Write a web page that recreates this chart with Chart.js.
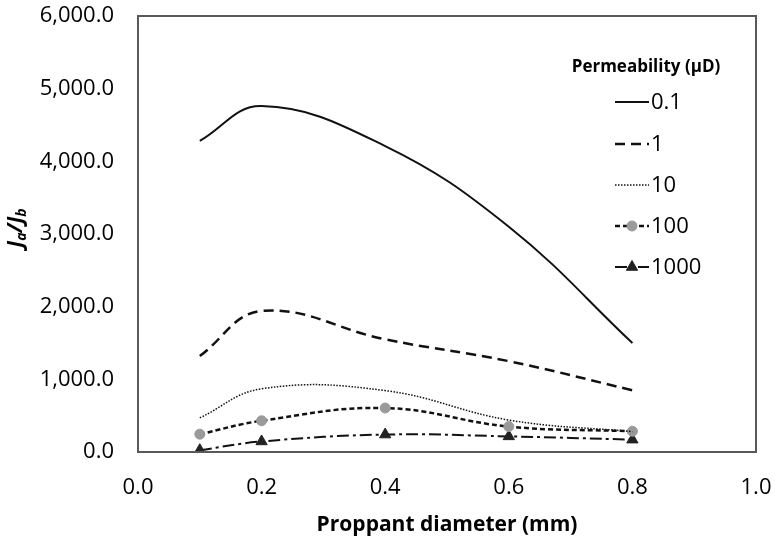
<!DOCTYPE html>
<html><head><meta charset="utf-8">
<script src="https://cdn.jsdelivr.net/npm/chart.js@4.4.1/dist/chart.umd.min.js"></script>
<style>html,body{margin:0;padding:0;background:#fff}#wrap{width:775px;height:543px}</style>
</head><body><div id="wrap"><canvas id="c" width="775" height="543"></canvas></div>
<script>
const diameters = [0.1, 0.2, 0.4, 0.6, 0.8];
const seriesNames = ['0.1', '1', '10', '100', '1000'];
const perm01 = [4280, 4760, 4210, 3100, 1500];
const perm1 = [1320, 1940, 1550, 1250, 850];
const perm10 = [470, 870, 845, 440, 280];
const perm100 = [245, 430, 605, 350, 285];
const perm1000 = [25, 145, 240, 215, 170];
const xTicks = [0, 0.2, 0.4, 0.6, 0.8, 1.0];
const yTicks = [0, 1000, 2000, 3000, 4000, 5000, 6000];
const legendTitle = 'Permeability (\u03bcD)';
const xTitle = 'Proppant diameter (mm)';

const FONT = '"Open Sans", sans-serif';
const toPts = arr => arr.map((v, i) => ({x: diameters[i], y: v}));

const styles = [
  {data: perm01, dash: [], width: 2, pr: 0},
  {data: perm1, dash: [10, 6], width: 2.5, pr: 0},
  {data: perm10, dash: [1.5, 1.5], width: 1.5, pr: 0},
  {data: perm100, dash: [5, 3], width: 2.5, pr: 5, ps: 'circle', pc: '#9a9a9a'},
  {data: perm1000, dash: [12, 4, 3, 4], width: 2, pr: 6.5, ps: 'triangle', pc: '#222222'}
];

const datasets = styles.map((s, i) => ({
  label: seriesNames[i],
  data: toPts(s.data),
  borderColor: '#111111',
  borderWidth: s.width,
  borderDash: s.dash,
  tension: 0.4,
  pointRadius: s.pr,
  pointStyle: s.ps || 'circle',
  pointBackgroundColor: s.pc || '#000',
  pointBorderColor: s.pc || '#000',
  pointBorderWidth: 1,
  fill: false
}));

const zeroPad = s => { s.paddingTop = 0; s.paddingBottom = 0; s.paddingLeft = 0; s.paddingRight = 0; };

const boxPlugin = {
  id: 'box',
  afterDraw(chart) {
    const {ctx, chartArea: a} = chart;
    ctx.save();
    ctx.strokeStyle = '#595959';
    ctx.lineWidth = 2;
    ctx.strokeRect(a.left, a.top, a.right - a.left, a.bottom - a.top);
    // y title J_a/J_b
    ctx.fillStyle = '#000';
    ctx.translate(14, (a.top + a.bottom) / 2 - 6);
    ctx.rotate(-Math.PI / 2);
    ctx.textBaseline = 'alphabetic';
    const big = 'italic bold 21px ' + FONT;
    const small = 'italic bold 14px ' + FONT;
    const parts = [['J', big, 0], ['a', small, 4], ['/J', big, 0], ['b', small, 4]];
    let w = 0;
    parts.forEach(p => { ctx.font = p[1]; w += ctx.measureText(p[0]).width; });
    let x = -w / 2;
    parts.forEach(p => { ctx.font = p[1]; ctx.fillText(p[0], x, 8 + p[2]); x += ctx.measureText(p[0]).width; });
    ctx.restore();

    // legend
    ctx.save();
    ctx.fillStyle = '#000';
    ctx.font = 'bold 17px ' + FONT;
    ctx.textAlign = 'center';
    ctx.textBaseline = 'middle';
    ctx.fillText(legendTitle, 646, 67);
    ctx.textAlign = 'left';
    ctx.font = '22px ' + FONT;
    const ys = [102, 144, 185, 226, 267];
    chart.data.datasets.forEach((d, i) => {
      const y = ys[i];
      ctx.save();
      ctx.strokeStyle = '#111';
      ctx.lineWidth = d.borderWidth;
      ctx.setLineDash(d.borderDash);
      ctx.beginPath();
      ctx.moveTo(615, y);
      ctx.lineTo(649, y);
      ctx.stroke();
      ctx.restore();
      if (d.pointRadius > 0) {
        ctx.save();
        ctx.fillStyle = d.pointBackgroundColor;
        ctx.strokeStyle = d.pointBorderColor;
        Chart.helpers.drawPoint(ctx, {pointStyle: d.pointStyle, radius: d.pointRadius, borderWidth: 1}, 632, y);
        ctx.restore();
      }
      ctx.fillStyle = '#000';
      ctx.fillText(d.label, 651, y + 1);
    });
    ctx.restore();
  }
};

new Chart(document.getElementById('c'), {
  type: 'line',
  data: {datasets},
  options: {
    responsive: false,
    animation: false,
    layout: {padding: {left: 0, right: 19, top: 16, bottom: 0}},
    plugins: {legend: {display: false}, tooltip: {enabled: false}},
    scales: {
      x: {
        type: 'linear', min: 0, max: 1,
        grid: {display: false}, border: {display: false},
        afterBuildTicks: s => { s.ticks = xTicks.map(v => ({value: v})); },
        ticks: {color: '#000', font: {family: FONT, size: 22}, padding: 15,
          callback: v => Number(v).toFixed(1)},
        title: {display: true, text: xTitle, color: '#000', font: {family: FONT, size: 21, weight: 'bold'}, padding: {top: 0, bottom: 5}},
        afterFit: s => { s.height = 91; zeroPad(s); }
      },
      y: {
        min: 0, max: 6000,
        grid: {display: false}, border: {display: false},
        afterBuildTicks: s => { s.ticks = yTicks.map(v => ({value: v})); },
        ticks: {color: '#000', font: {family: FONT, size: 22}, padding: 16,
          callback: v => Number(v).toLocaleString('en-US', {minimumFractionDigits: 1, maximumFractionDigits: 1})},
        afterFit: s => { s.width = 138; zeroPad(s); }
      }
    }
  },
  plugins: [boxPlugin]
});
</script></body></html>
